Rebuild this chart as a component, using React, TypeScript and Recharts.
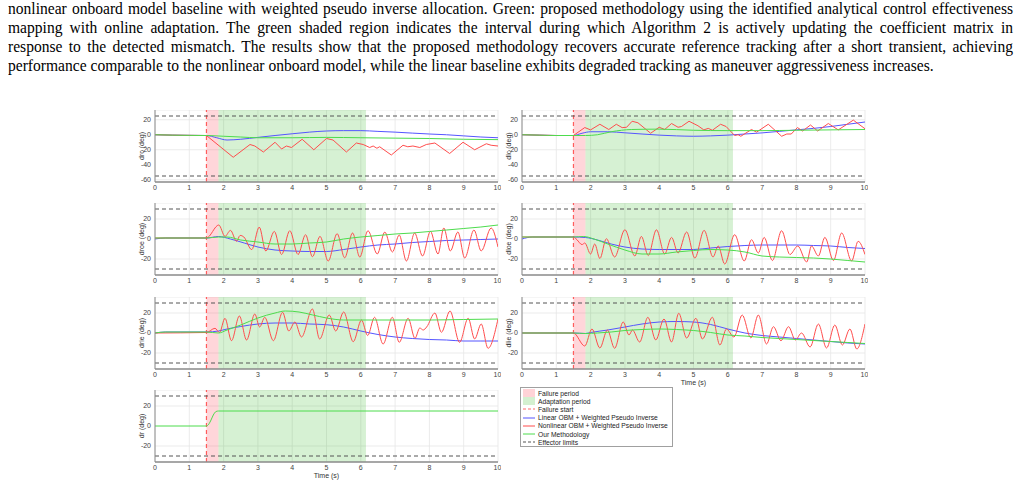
import React from 'react';
import {
  LineChart,
  Line,
  XAxis,
  YAxis,
  CartesianGrid,
  ReferenceArea,
  ReferenceLine,
} from 'recharts';

type Pt = [number, number];

// time axis (s) and event times
const timeTicks = [0, 1, 2, 3, 4, 5, 6, 7, 8, 9, 10];
const failureStart = 1.5;
const adaptationStart = 1.85;
const adaptationEnd = 6.15;

const canardTicks = [-60, -40, -20, 0, 20];
const canardLimits = [25, -55];
const elevonTicks = [-20, 0, 20];
const elevonLimits = [30, -30];

// drc (deg)
const drcLinear: Pt[] = [[0, 0], [0.5, -0.5], [1, -0.8], [1.5, -1], [1.8, -4], [2.1, -7], [2.5, -6], [3, -3.5], [3.5, -1], [4, 1.3], [4.5, 3.5], [5, 5], [5.5, 5.5], [6, 5.5], [6.5, 4.5], [7, 3.5], [7.5, 2.2], [8, 1], [8.5, 0], [9, -1.5], [9.5, -3], [10, -4]];
const drcNonlinear: Pt[] = [[0, 0], [0.5, -0.5], [1, -0.8], [1.5, -1], [2.28, -30], [2.77, -13], [2.91, -15], [3.16, -23], [3.5, -10], [3.69, -19], [3.83, -15], [3.98, -17], [4.29, -6], [4.63, -20], [5.0, -5], [5.19, -7], [5.58, -23], [5.87, -11], [6.07, -13], [6.26, -17], [6.36, -15], [6.47, -18], [6.55, -16], [6.89, -27], [7.23, -14], [7.37, -16], [7.52, -15], [7.72, -17], [7.91, -13], [8.16, -11], [8.59, -25], [8.98, -10], [9.32, -20], [9.66, -12], [9.8, -14], [10, -15]];
const drcOurs: Pt[] = [[0, 0], [0.5, -0.5], [1, -0.8], [1.5, -1], [2, -2], [2.5, -3], [3, -4], [4, -4], [5, -3.5], [6, -4], [7, -4.5], [8, -5], [9, -6], [10, -6.5]];

// dlc (deg)
const dlcLinear: Pt[] = [[0, 0], [0.5, -0.5], [1, -1], [1.5, -1], [1.75, 2], [2, 4], [2.5, 4], [3, 2.6], [3.5, 1], [4, -0.5], [4.5, -1.5], [5, -2], [5.5, -1.5], [6, -0.5], [6.5, 1], [7, 2.5], [7.5, 4.5], [8, 6.5], [8.5, 8.5], [9, 11], [9.5, 14], [10, 17]];
const dlcNonlinear: Pt[] = [[0, 0], [0.5, -0.5], [1, -1], [1.5, -1], [1.83, 9.6], [2.0, 6.5], [2.27, 14], [2.53, 7], [2.75, 14], [2.92, 9.5], [3.05, 10], [3.21, 18], [3.38, 16], [3.75, 2], [4.0, 10], [4.16, 7], [4.36, 15], [4.55, 10], [4.65, 11], [4.87, 18], [5.13, 12], [5.3, 6.5], [5.43, 8.5], [5.55, 6], [5.79, 14], [5.95, 11], [6.2, -1], [6.3, 0], [6.38, -2], [6.69, 7], [6.84, 3.5], [7.18, 14], [7.57, -2], [7.72, 1], [7.85, 1], [8.03, 9.6], [8.18, 5], [8.41, 13], [8.62, 5], [8.93, 15], [9.22, 6.5], [9.66, 19.5], [10, 8]];
const dlcOurs: Pt[] = [[0, 0], [0.5, -0.5], [1, -1], [1.5, -1], [1.85, -1], [2.2, 0], [2.6, 4], [3.2, 7], [4, 7.5], [5, 6], [6, 5.5], [7, 5.5], [8, 6], [9, 6.5], [10, 7]];

// droe (deg)
const droeLinear: Pt[] = [[0, 0], [0.3, 1], [1.5, 1], [1.85, 2.5], [2.2, 0], [2.6, -4], [3, -8], [3.5, -11], [4, -12], [4.5, -12.5], [5, -12.5], [5.5, -10.5], [6, -8], [6.5, -6], [7, -5], [7.5, -3.5], [8, -2.5], [8.5, -1.5], [9, -1], [9.5, -0.5], [10, 0]];
const droeNonlinear: Pt[] = [[0, 1], [1.5, 1], [1.86, 14], [2.04, 2.6], [2.2, 8.6], [2.38, -2.3], [2.48, 3.6], [2.59, 2], [2.82, -10.6], [3.04, 11.9], [3.23, -12], [3.48, 7.6], [3.69, -15.5], [3.93, 8.3], [4.17, -15.5], [4.39, 4.3], [4.59, -17.8], [4.81, 2.6], [5.05, -22], [5.31, 5.3], [5.53, -18.8], [5.76, 6], [5.97, -18], [6.21, 8.3], [6.48, -15], [6.7, 7], [6.92, -13], [7.12, 4], [7.33, -22], [7.57, 6], [7.8, -17], [8.03, 7.6], [8.25, -15], [8.42, 11], [8.61, -12], [8.83, 7], [9.03, -19], [9.3, 9], [9.51, -12], [9.8, 11], [10, -8]];
const droeOurs: Pt[] = [[0, 1], [1.5, 1], [1.85, 2], [2.1, 2], [2.5, -1], [3, -3], [3.5, -5], [4, -5], [4.5, -4], [5, -3], [5.5, 0], [6, 2], [6.5, 3.5], [7, 5], [7.5, 6], [8, 7.5], [8.5, 9], [9, 10.5], [9.5, 12], [10, 14]];

// dloe (deg)
const dloeLinear: Pt[] = [[0, 0], [0.3, 2], [1.5, 2], [1.85, 1.5], [2.2, -1], [2.6, -5], [3, -8], [3.5, -10], [4, -10.5], [5, -10.5], [5.5, -9], [6, -7.5], [6.5, -6.5], [7, -6], [8, -6], [8.5, -6.5], [9, -7], [9.5, -8.5], [10, -9.5]];
const dloeNonlinear: Pt[] = [[0, 2], [1.5, 2], [1.6, -0.7], [1.75, -5.6], [1.83, -4], [2.0, -15], [2.12, -5], [2.27, -19.5], [2.46, 0.3], [2.7, -18], [3.0, 9.2], [3.29, -17], [3.48, 2.6], [3.68, -16.5], [3.92, 9.2], [4.16, -15], [4.36, 1.6], [4.55, -14], [4.8, 7], [5.04, -19], [5.31, 8.6], [5.57, -18], [5.72, -7], [5.91, -25], [6.2, 4.3], [6.48, -22], [6.69, -0.7], [6.89, -14], [7.06, 1.6], [7.3, -21.5], [7.57, 8.3], [7.81, -15.5], [8.04, -7], [8.3, -23], [8.44, -7], [8.64, -17], [8.83, 1.6], [9.08, -21.5], [9.32, 6], [9.61, -22], [9.8, -2.3], [10, -15.5]];
const dloeOurs: Pt[] = [[0, 2], [1.5, 2], [1.8, 2.5], [2.1, 0], [2.5, -5], [3, -11], [3.5, -15], [4, -15], [4.5, -13], [5, -11.5], [5.5, -10.5], [6, -11], [6.5, -13], [7, -17], [7.5, -18], [8, -18.5], [8.5, -19], [9, -20], [9.5, -21.5], [10, -23]];

// drie (deg)
const drieLinear: Pt[] = [[0, 0], [0.3, 1], [1.5, 1], [1.85, 2], [2.1, 4], [2.5, 6.5], [3, 9], [3.5, 10], [4, 10], [4.5, 9], [5, 8.3], [5.5, 6], [6, 2], [6.5, -1.5], [7, -4], [7.5, -5.5], [8, -6.5], [8.5, -7], [9, -8], [9.5, -8], [10, -8]];
const drieNonlinear: Pt[] = [[0, 0], [1.5, 0.5], [1.75, 4.7], [1.88, 0.5], [2.04, 14.7], [2.23, -7.7], [2.46, 17], [2.67, -7], [2.91, 19], [3.05, 6], [3.2, 15.7], [3.45, -7.7], [3.72, 20.7], [3.9, 2], [4.08, 11], [4.27, -4], [4.59, 24], [4.8, -6], [5.08, 18], [5.27, 2], [5.5, 21], [5.78, -8.7], [6.02, 13], [6.2, -2.5], [6.4, 15.7], [6.65, -11], [6.92, 15.7], [7.12, -9.3], [7.38, 14.7], [7.58, -5.3], [7.72, 5], [7.82, 3], [7.92, 6], [8.16, 20], [8.35, 0.7], [8.6, 22], [8.88, -9.3], [9.13, 14.7], [9.32, -6], [9.51, 9], [9.71, -15.3], [10, 14]];
const drieOurs: Pt[] = [[0, 0], [0.3, 1], [1.5, 1], [1.85, 0], [2.1, 3], [2.5, 8], [3, 15], [3.5, 20], [3.8, 22], [4.2, 21], [4.6, 18], [5, 15], [5.5, 13], [6, 13], [7, 13], [8, 13], [9, 13.5], [10, 14]];

// dlie (deg)
const dlieLinear: Pt[] = [[0, 0], [1.5, 0], [1.85, -0.5], [2, 0.5], [2.5, 3], [3, 6], [3.5, 9], [4, 11], [4.5, 11.5], [5, 11], [5.5, 8.5], [6, 4], [6.5, 0], [7, -2.5], [7.5, -4], [8, -5.5], [8.5, -7], [9, -8.5], [9.5, -10], [10, -11]];
const dlieNonlinear: Pt[] = [[0, 0], [1.5, 0], [1.83, -13], [2.04, 4], [2.27, -15], [2.49, 3], [2.7, -15.3], [2.95, 11], [3.12, -2], [3.22, 3], [3.43, -9], [3.67, 15.7], [3.9, -7], [4.14, 14], [4.36, -9], [4.57, 19.7], [4.8, -5], [5.07, 14.7], [5.26, -6], [5.55, 15.7], [5.77, -12], [5.96, 4], [6.18, -4], [6.42, 18], [6.67, -5], [6.89, 18], [7.13, -11], [7.33, 6.3], [7.55, -7.7], [7.77, 6.3], [7.97, -7], [8.15, 0], [8.4, -14], [8.64, 9], [8.88, -15], [9.12, 8], [9.34, -12], [9.56, 4], [9.76, -16], [10, 9]];
const dlieOurs: Pt[] = [[0, 0], [1.5, 0], [1.85, -0.5], [2.2, 0], [2.6, 1], [3, 2.5], [3.5, 3.5], [4, 4], [4.5, 3.5], [5, 2.5], [5.5, 0.5], [6, -2], [6.5, -3], [7, -4.5], [7.5, -5.5], [8, -6.5], [8.5, -7.5], [9, -8.5], [9.5, -9.5], [10, -10.5]];

// dr (deg), rudder: only our methodology
const drOurs: Pt[] = [[0, 0], [1.5, 0], [1.55, 1], [1.62, 5], [1.7, 11], [1.78, 14.5], [1.85, 15], [10, 15]];

const captionLines = [
  'nonlinear onboard model baseline with weighted pseudo inverse allocation. Green: proposed methodology using the identified analytical control effectiveness',
  'mapping with online adaptation. The green shaded region indicates the interval during which Algorithm 2 is actively updating the coefficient matrix in',
  'response to the detected mismatch. The results show that the proposed methodology recovers accurate reference tracking after a short transient, achieving',
  'performance comparable to the nonlinear onboard model, while the linear baseline exhibits degraded tracking as maneuver aggressiveness increases.',
];

const legendItems = [
  { label: 'Failure period', kind: 'patch', color: '#ffd3d7' },
  { label: 'Adaptation period', kind: 'patch', color: '#d4f0d0' },
  { label: 'Failure start', kind: 'dash', color: '#ff6b6b' },
  { label: 'Linear OBM + Weighted Pseudo Inverse', kind: 'line', color: '#5555ff' },
  { label: 'Nonlinear OBM + Weighted Pseudo Inverse', kind: 'line', color: '#ff4d4d' },
  { label: 'Our Methodology', kind: 'line', color: '#4ddc4d' },
  { label: 'Effector limits', kind: 'dash', color: '#555555' },
];

const BLUE = '#5555ff';
const RED = '#ff4d4d';
const GREEN = '#4ddc4d';
const FONT = 'Liberation Sans, Arial, sans-serif';
const CAPTION_SCALE = 0.915;

const toRows = (pts: Pt[]) => pts.map(([t, v]) => ({ t, v }));

interface PanelProps {
  left: number;
  top: number;
  label: string;
  ticks: number[];
  domain: [number, number];
  limits: number[];
  linear?: Pt[];
  nonlinear?: Pt[];
  ours: Pt[];
  zigzag?: boolean;
  timeLabel?: boolean;
}

const PLOT_W = 343;
const PLOT_H = 72;
const Y_W = 25;

const Panel: React.FC<PanelProps> = ({ left, top, label, ticks, domain, limits, linear, nonlinear, ours, zigzag, timeLabel }) => (
  <div style={{ position: 'absolute', left: left - Y_W, top }}>
    <LineChart width={Y_W + PLOT_W + 3} height={PLOT_H + 14} margin={{ top: 0, right: 3, bottom: 0, left: 0 }}>
      <CartesianGrid stroke="#e6e6e6" strokeWidth={0.8} />
      <XAxis
        dataKey="t"
        type="number"
        domain={[0, 10]}
        ticks={timeTicks}
        height={14}
        tickLine={false}
        tickSize={2}
        tickMargin={1}
        axisLine={{ stroke: '#8c8c8c', strokeWidth: 1.5 }}
        tick={{ fontSize: 7, fill: '#444', fontFamily: FONT }}
        allowDataOverflow
      />
      <YAxis
        type="number"
        domain={domain}
        ticks={ticks}
        width={Y_W}
        tickLine={false}
        tickSize={3}
        tickMargin={1}
        axisLine={{ stroke: '#8c8c8c', strokeWidth: 1 }}
        tick={{ fontSize: 7, fill: '#444', fontFamily: FONT }}
        allowDataOverflow
      />
      <ReferenceArea x1={failureStart} x2={adaptationStart} fill="#ff3346" fillOpacity={0.2} stroke="none" />
      <ReferenceArea x1={adaptationStart} x2={adaptationEnd} fill="#32b923" fillOpacity={0.2} stroke="none" />
      <ReferenceLine x={failureStart} stroke="#ff5c5c" strokeDasharray="4 3" strokeWidth={1.2} />
      {limits.map(l => (
        <ReferenceLine key={l} y={l} stroke="#555" strokeDasharray="4 3" strokeWidth={1} />
      ))}
      {linear && (
        <Line data={toRows(linear)} dataKey="v" type="monotone" stroke={BLUE} strokeWidth={1} dot={false} isAnimationActive={false} />
      )}
      {nonlinear && (
        <Line data={toRows(nonlinear)} dataKey="v" type={zigzag ? 'linear' : 'monotone'} stroke={RED} strokeWidth={1} dot={false} isAnimationActive={false} />
      )}
      <Line data={toRows(ours)} dataKey="v" type="monotone" stroke={GREEN} strokeWidth={1} dot={false} isAnimationActive={false} />
    </LineChart>
    <div
      style={{
        position: 'absolute',
        left: Y_W - 13 - 40,
        top: PLOT_H / 2 - 5,
        width: 80,
        height: 10,
        textAlign: 'center',
        fontSize: 7,
        lineHeight: '10px',
        color: '#333',
        fontFamily: FONT,
        transform: 'rotate(-90deg)',
      }}
    >
      {label}
    </div>
    {timeLabel && (
      <div
        style={{
          position: 'absolute',
          left: Y_W,
          top: PLOT_H + 10,
          width: PLOT_W,
          textAlign: 'center',
          fontSize: 7,
          color: '#333',
          fontFamily: FONT,
        }}
      >
        Time (s)
      </div>
    )}
  </div>
);

const Swatch: React.FC<{ kind: string; color: string }> = ({ kind, color }) => (
  <svg width={13} height={8} style={{ marginRight: 2, flex: 'none' }}>
    {kind === 'patch' && <rect x={0} y={0} width={12} height={8} fill={color} />}
    {kind === 'line' && <line x1={0} y1={4} x2={12} y2={4} stroke={color} strokeWidth={1} />}
    {kind === 'dash' && <line x1={0} y1={4} x2={12} y2={4} stroke={color} strokeWidth={1} strokeDasharray="3 2" />}
  </svg>
);

export default function App() {
  return (
    <div style={{ position: 'absolute', left: 0, top: 0, width: 1021, height: 485, background: '#fff', overflow: 'hidden' }}>
      {captionLines.map((line, i) => (
        <div
          key={i}
          style={{
            position: 'absolute',
            left: 8,
            top: -1 + i * 19,
            width: 1005 / CAPTION_SCALE,
            fontFamily: 'Liberation Serif, Times New Roman, serif',
            fontSize: 17,
            lineHeight: '20px',
            whiteSpace: 'nowrap',
            textAlign: i < captionLines.length - 1 ? 'justify' : 'left',
            textAlignLast: i < captionLines.length - 1 ? 'justify' : 'left',
            transform: `scaleX(${CAPTION_SCALE})`,
            transformOrigin: '0 0',
            color: '#000',
          }}
        >
          {line}
        </div>
      ))}

      <Panel left={155} top={110} label="drc (deg)" ticks={canardTicks} domain={[-63, 33]} limits={canardLimits} linear={drcLinear} nonlinear={drcNonlinear} ours={drcOurs} zigzag />
      <Panel left={522} top={110} label="dlc (deg)" ticks={canardTicks} domain={[-63, 33]} limits={canardLimits} linear={dlcLinear} nonlinear={dlcNonlinear} ours={dlcOurs} zigzag />
      <Panel left={155} top={203} label="droe (deg)" ticks={elevonTicks} domain={[-36, 36]} limits={elevonLimits} linear={droeLinear} nonlinear={droeNonlinear} ours={droeOurs} />
      <Panel left={522} top={203} label="dloe (deg)" ticks={elevonTicks} domain={[-36, 36]} limits={elevonLimits} linear={dloeLinear} nonlinear={dloeNonlinear} ours={dloeOurs} />
      <Panel left={155} top={297} label="drie (deg)" ticks={elevonTicks} domain={[-36, 36]} limits={elevonLimits} linear={drieLinear} nonlinear={drieNonlinear} ours={drieOurs} />
      <Panel left={522} top={297} label="dlie (deg)" ticks={elevonTicks} domain={[-36, 36]} limits={elevonLimits} linear={dlieLinear} nonlinear={dlieNonlinear} ours={dlieOurs} timeLabel />
      <Panel left={155} top={390} label="dr (deg)" ticks={elevonTicks} domain={[-36, 36]} limits={elevonLimits} ours={drOurs} timeLabel />

      <div
        style={{
          position: 'absolute',
          left: 520,
          top: 387,
          width: 153,
          height: 60,
          border: '1px solid #a0a0a0',
          boxSizing: 'border-box',
          padding: '1px 2px',
          fontFamily: FONT,
          fontSize: 6.7,
          color: '#222',
          background: '#fff',
        }}
      >
        {legendItems.map(it => (
          <div key={it.label} style={{ display: 'flex', alignItems: 'center', height: 8.2, whiteSpace: 'nowrap' }}>
            <Swatch kind={it.kind} color={it.color} />
            {it.label}
          </div>
        ))}
      </div>
    </div>
  );
}
